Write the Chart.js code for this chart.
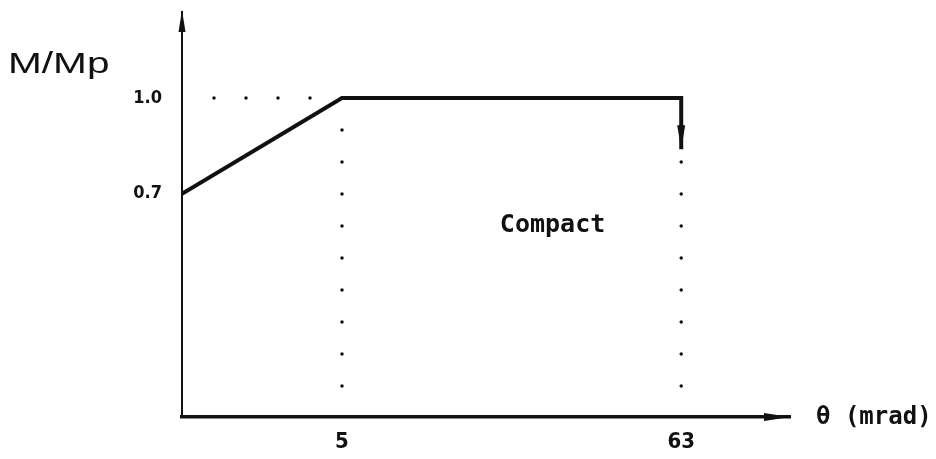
<!DOCTYPE html>
<html>
<head>
<meta charset="utf-8">
<script src="https://cdn.jsdelivr.net/npm/chart.js@4.4.1/dist/chart.umd.min.js"></script>
<style>
  html, body { margin: 0; padding: 0; background: #fff; }
  #wrap { width: 936px; height: 459px; }
</style>
</head>
<body>
<div id="wrap"><canvas id="chart"></canvas></div>
<script>
// moment ratio M/Mp against rotation θ (mrad), schematic
const thetaTicks = [5, 63];
const momentTicks = [0.7, 1.0];
const curveTheta = [0, 5, 63, 63];
const curveMoment = [0.7, 1.0, 1.0, 0.84];
const plateauTheta = [5, 0];
const plateauMoment = [1.0, 1.0];
const limitTheta = [5, 63];
const regionLabel = 'Compact';
const regionAt = [41, 0.6];

const INK = '#111';

// linear axis with a kink: the first segment [min, breakAt] gets breakFraction of the width
class BrokenScale extends Chart.LinearScale {
  static id = 'broken';
  toDecimal(v) {
    const b = this.options.breakAt, f = this.options.breakFraction;
    if (v <= b) return f * (v - this.min) / (b - this.min);
    return f + (1 - f) * (v - b) / (this.max - b);
  }
  getPixelForValue(v) {
    if (v === null || v === undefined) return NaN;
    return this.getPixelForDecimal(this.toDecimal(v));
  }
  getValueForPixel(p) {
    const d = this.getDecimalForPixel(p);
    const b = this.options.breakAt, f = this.options.breakFraction;
    if (d <= f) return this.min + (d / f) * (b - this.min);
    return b + ((d - f) / (1 - f)) * (this.max - b);
  }
}
Chart.register(BrokenScale);

const pts = (xs, ys) => xs.map((x, i) => ({ x, y: ys[i] }));

const dotted = {
  borderColor: INK,
  borderWidth: 3.5,
  borderDash: [0, 32],
  borderCapStyle: 'round',
  pointRadius: 0,
  fill: false
};

const datasets = [
  {
    data: pts(curveTheta, curveMoment),
    borderColor: INK,
    borderWidth: 4,
    borderJoinStyle: 'miter',
    pointRadius: 0,
    tension: 0,
    fill: false
  },
  { ...dotted, data: pts(plateauTheta, plateauMoment) }
];
limitTheta.forEach(t => {
  datasets.push({ ...dotted, data: pts([t, t], [1.0, 0]) });
});

function arrowHead(ctx, tipX, tipY, dx, dy, len, half) {
  // dx, dy: unit direction the arrow points to
  const bx = tipX - dx * len, by = tipY - dy * len;
  ctx.beginPath();
  ctx.moveTo(tipX, tipY);
  ctx.lineTo(bx - dy * half, by + dx * half);
  ctx.lineTo(bx + dy * half, by - dx * half);
  ctx.closePath();
  ctx.fill();
}

const decorations = {
  id: 'decorations',
  afterDraw(chart) {
    const { ctx, chartArea: a, scales: { x, y } } = chart;
    ctx.save();
    ctx.fillStyle = INK;

    // axis arrows
    arrowHead(ctx, a.left, a.top - 2, 0, -1, 22, 3.5);
    arrowHead(ctx, a.right, a.bottom, 1, 0, 26, 4);

    // arrow at the end of the curve
    const n = curveTheta.length - 1;
    arrowHead(ctx, x.getPixelForValue(curveTheta[n]), y.getPixelForValue(curveMoment[n]), 0, 1, 24, 4);

    // y axis title
    ctx.save();
    ctx.translate(8, 73);
    ctx.scale(1.4, 1);
    ctx.font = '29px "Liberation Sans"';
    ctx.textBaseline = 'alphabetic';
    ctx.textAlign = 'left';
    ctx.fillText('M/Mp', 0, 0);
    ctx.restore();

    // x axis title
    ctx.font = 'bold 24px "DejaVu Sans Mono"';
    ctx.textAlign = 'left';
    ctx.textBaseline = 'middle';
    ctx.fillText('θ (mrad)', 816, a.bottom + 1);

    // region label
    ctx.font = 'bold 25px "DejaVu Sans Mono"';
    ctx.textAlign = 'center';
    ctx.fillText(regionLabel, x.getPixelForValue(regionAt[0]), y.getPixelForValue(regionAt[1]));
    ctx.restore();
  }
};

new Chart(document.getElementById('chart'), {
  type: 'line',
  data: { datasets },
  plugins: [decorations],
  options: {
    responsive: true,
    maintainAspectRatio: false,
    animation: false,
    events: [],
    layout: { padding: { top: 12, right: 146, left: 0, bottom: 0 } },
    plugins: { legend: { display: false }, tooltip: { enabled: false } },
    scales: {
      x: {
        type: 'broken',
        breakAt: 5,
        breakFraction: 160 / 608,
        min: 0,
        max: 81.6,
        afterBuildTicks: s => { s.ticks = thetaTicks.map(v => ({ value: v })); },
        afterFit: s => { s.height = 42; s.paddingLeft = 0; s.paddingRight = 0; },
        grid: { display: false, drawTicks: false },
        border: { display: true, color: INK, width: 3.5 },
        ticks: {
          color: INK, padding: 12, maxRotation: 0, autoSkip: false,
          font: { family: 'DejaVu Sans Condensed', weight: 'bold', size: 22 }
        }
      },
      y: {
        type: 'linear',
        min: 0,
        max: 1.27,
        afterBuildTicks: s => { s.ticks = momentTicks.map(v => ({ value: v })); },
        afterFit: s => { s.width = 182; s.paddingTop = 0; s.paddingBottom = 0; },
        grid: { display: false, drawTicks: false },
        border: { display: true, color: INK, width: 2 },
        ticks: {
          color: INK, padding: 20, callback: v => v.toFixed(1),
          font: { family: 'DejaVu Sans Condensed', weight: 'bold', size: 18 }
        }
      }
    }
  }
});
</script>
</body>
</html>
